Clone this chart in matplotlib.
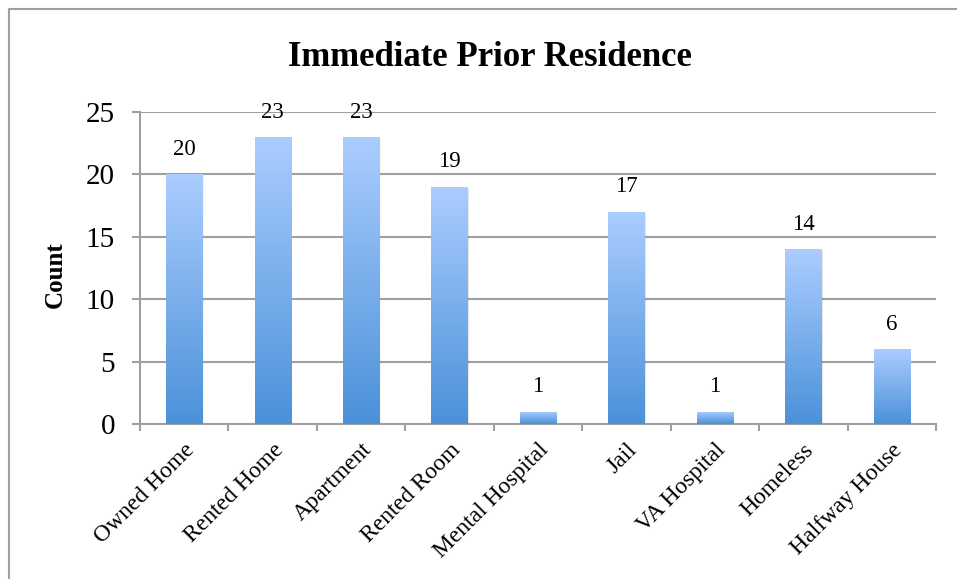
import matplotlib
matplotlib.use("Agg")
import matplotlib.pyplot as plt
import numpy as np
from matplotlib.colors import LinearSegmentedColormap
from matplotlib.lines import Line2D

# Where residents lived right before admission
categories = ["Owned Home", "Rented Home", "Apartment", "Rented Room",
              "Mental Hospital", "Jail", "VA Hospital", "Homeless",
              "Halfway House"]
counts = [20, 23, 23, 19, 1, 17, 1, 14, 6]
y_ticks = [0, 5, 10, 15, 20, 25]

plt.rcParams["font.family"] = ["Liberation Serif", "DejaVu Serif"]

GRID = "#a0a0a0"
W, H = 957, 579

fig = plt.figure(figsize=(W / 100, H / 100), dpi=100)
ax = fig.add_axes([140 / W, 1 - 424 / H, (936 - 140) / W, (424 - 112) / H])

x = np.arange(len(categories))
bars = ax.bar(x, counts, width=0.41, color="none", zorder=3)

# vertical fade, darker at the base, stretched per bar
fade = LinearSegmentedColormap.from_list("fade", ["#4b91d9", "#abcdff"])
grad = np.linspace(0, 1, 256).reshape(-1, 1)
for bar in bars:
    x0, w, h = bar.get_x(), bar.get_width(), bar.get_height()
    # soft drop shadow
    for k, a in [(4, 0.04), (3, 0.06), (2, 0.08)]:
        ax.add_patch(plt.Rectangle((x0 + 0.004 * k, 0), w, h - 0.04 * k,
                                   color="k", alpha=a, lw=0, zorder=2.5))
    im = ax.imshow(grad, cmap=fade, origin="lower", aspect="auto",
                   extent=[x0, x0 + w, 0, h], zorder=3, interpolation="bilinear")
    im.set_clip_path(bar)

for xi, c in zip(x, counts):
    ax.annotate(str(c), (xi, c), xytext=(0, 14), textcoords="offset points",
                ha="center", va="baseline", fontsize=16.5, zorder=5)

ax.set_xlim(-0.5, len(categories) - 0.5)
ax.set_ylim(0, 25)
ax.set_yticks(y_ticks)
ax.set_yticklabels([str(t) for t in y_ticks], fontsize=21)
ax.tick_params(axis="y", length=6, width=1.5, color=GRID, pad=12)

ax.set_xticks(x)
ax.set_xticklabels(categories, rotation=45, ha="right",
                   rotation_mode="anchor", fontsize=17)
ax.tick_params(axis="x", length=0, pad=11)
ax.set_xticks(np.arange(len(categories) + 1) - 0.5, minor=True)
ax.tick_params(axis="x", which="minor", length=5, width=1.5, color=GRID)

ax.grid(axis="y", color=GRID, lw=1.5, zorder=0)
ax.set_axisbelow(True)
for side in ["top", "right"]:
    ax.spines[side].set_visible(False)
for side in ["left", "bottom"]:
    ax.spines[side].set_color(GRID)
    ax.spines[side].set_linewidth(1.5)

fig.text(490 / W, 1 - 57 / H, "Immediate Prior Residence",
         ha="center", va="center", fontsize=25, fontweight="bold")
fig.text(55 / W, 1 - 275 / H, "Count", rotation=90,
         ha="center", va="center", fontsize=18, fontweight="bold")

# chart-area frame (only left and top edges fall inside the image)
fig.add_artist(Line2D([9 / W, 9 / W, 1], [0, 1 - 9 / H, 1 - 9 / H],
                      transform=fig.transFigure, color=GRID, lw=1.5))

fig.savefig("out.png", dpi=100)
